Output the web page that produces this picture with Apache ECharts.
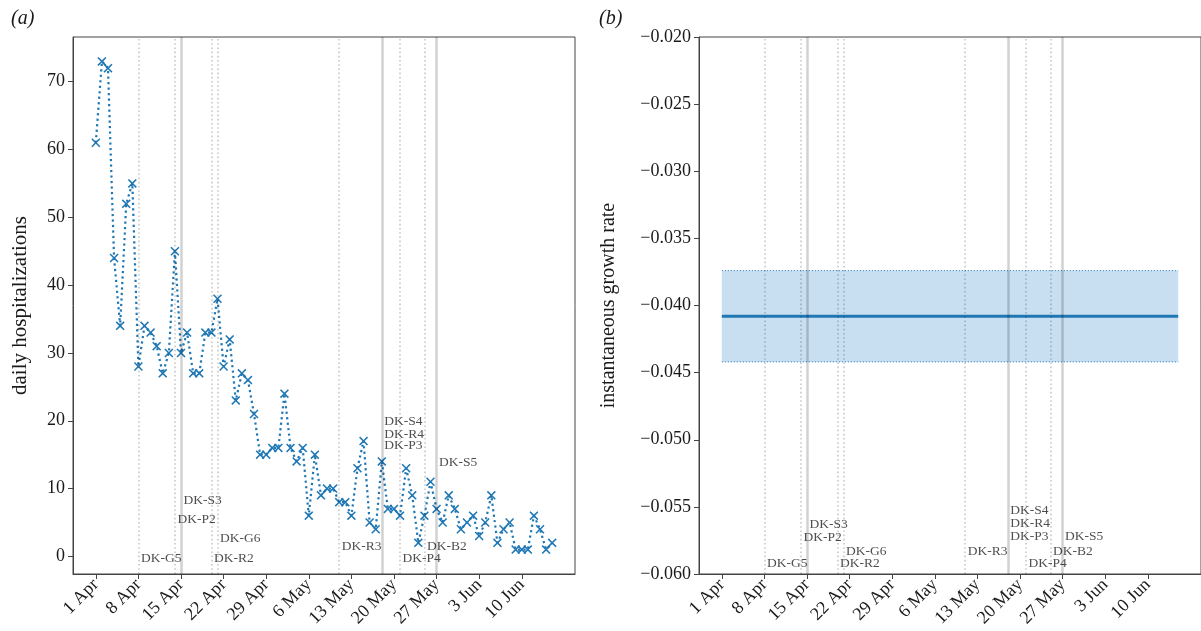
<!DOCTYPE html>
<html>
<head>
<meta charset="utf-8">
<script src="https://cdn.jsdelivr.net/npm/echarts@6/dist/echarts.min.js"></script>
<style>
  html, body { margin: 0; padding: 0; background: #fff; }
  #main { width: 1201px; height: 631px; }
</style>
</head>
<body>
<div id="main"></div>
<script>
// days counted from 1 Apr
var tickDays   = [0, 7, 14, 21, 28, 35, 42, 49, 56, 63, 70];
var tickLabels = ['1 Apr', '8 Apr', '15 Apr', '22 Apr', '29 Apr', '6 May', '13 May', '20 May', '27 May', '3 Jun', '10 Jun'];

// daily hospitalizations, one per day from 1 Apr (day 0) to 15 Jun (day 75)
var hospDays = [];
for (var d = 0; d <= 75; d++) hospDays.push(d);
var hospitalizations = [61, 73, 72, 44, 34, 52, 55, 28, 34, 33, 31, 27, 30, 45, 30, 33,
  27, 27, 33, 33, 38, 28, 32, 23, 27, 26, 21, 15, 15, 16, 16, 24, 16, 14, 16, 6,
  15, 9, 10, 10, 8, 8, 6, 13, 17, 5, 4, 14, 7, 7, 6, 13, 9, 2, 6, 11, 7, 5, 9, 7,
  4, 5, 6, 3, 5, 9, 2, 4, 5, 1, 1, 1, 6, 4, 1, 2];

// growth rate estimate (constant over the period) and its interval
var growthDays  = [0, 75];
var growthRate  = [-0.0408, -0.0408];
var growthLower = [-0.0442, -0.0442];
var growthUpper = [-0.0374, -0.0374];

// event lines
var eventDays  = [7, 13, 14, 19, 20, 40, 47, 50, 54, 56];
var eventKinds = ['dotted', 'dotted', 'solid', 'dotted', 'dotted', 'dotted', 'solid', 'dotted', 'dotted', 'solid'];

// event names and where the text sits on each panel
var annoNames  = ['DK-G5', 'DK-P2', 'DK-S3', 'DK-R2', 'DK-G6', 'DK-R3', 'DK-S4', 'DK-R4', 'DK-P3', 'DK-P4', 'DK-B2', 'DK-S5'];
var annoDays   = [7, 13, 14, 19, 20, 40, 47, 47, 47, 50, 54, 56];
var annoLevelA = [-0.34, 5.4, 8.2, -0.34, 2.6, 1.47, 19.96, 18.0, 16.3, -0.34, 1.47, 13.9];
var annoLevelB = [-0.0592, -0.0573, -0.0563, -0.0592, -0.0583, -0.0583, -0.0553, -0.0562, -0.0572, -0.0592, -0.0583, -0.0572];

var FONT = '"Liberation Serif", "DejaVu Serif", serif';
var BLUE = '#1f77b4';
var INK  = '#1a1a1a';

function zip(a, b) {
  var out = [];
  for (var i = 0; i < a.length; i++) out.push([a[i], b[i]]);
  return out;
}

function annoData(levels) {
  var out = [];
  for (var i = 0; i < annoNames.length; i++) out.push({ value: [annoDays[i], levels[i]], name: annoNames[i] });
  return out;
}

function eventLines() {
  var out = [];
  for (var i = 0; i < eventDays.length; i++) {
    var solid = eventKinds[i] == 'solid';
    out.push({
      xAxis: eventDays[i],
      lineStyle: solid
        ? { type: 'solid', width: 2.5, color: 'rgba(0,0,0,0.18)' }
        : { type: [1.6, 2.6], width: 1.6, color: 'rgba(0,0,0,0.22)' }
    });
  }
  return out;
}

function xAxisFor(idx) {
  return {
    type: 'value', gridIndex: idx, min: -3.75, max: 78.75,
    splitLine: { show: false },
    axisLine: { show: true, onZero: false, lineStyle: { color: '#444', width: 1 } },
    axisTick: { show: true, length: 5, lineStyle: { color: '#444' }, customValues: tickDays },
    axisLabel: {
      customValues: tickDays, rotate: 45, margin: 8,
      fontFamily: FONT, fontSize: 18, color: INK,
      formatter: function (v) { return tickLabels[tickDays.indexOf(v)]; }
    }
  };
}

var chart = echarts.init(document.getElementById('main'));

var option = {
  animation: false,
  backgroundColor: '#fff',
  title: [
    { text: '(a)', left: 6, top: 4, textStyle: { fontFamily: FONT, fontStyle: 'italic', fontWeight: 'normal', fontSize: 20, color: INK } },
    { text: '(b)', left: 594, top: 4, textStyle: { fontFamily: FONT, fontStyle: 'italic', fontWeight: 'normal', fontSize: 20, color: INK } }
  ],
  grid: [
    { left: 73, top: 37, width: 502, height: 537, show: true, borderColor: '#444', borderWidth: 1 },
    { left: 699, top: 37, width: 503, height: 537, show: true, borderColor: '#444', borderWidth: 1 }
  ],
  xAxis: [xAxisFor(0), xAxisFor(1)],
  yAxis: [
    {
      type: 'value', gridIndex: 0, min: -2.6, max: 76.6,
      name: 'daily hospitalizations', nameLocation: 'middle', nameGap: 42,
      nameTextStyle: { fontFamily: FONT, fontSize: 21, color: INK },
      splitLine: { show: false },
      axisLine: { show: true, onZero: false, lineStyle: { color: '#444' } },
      axisTick: { show: true, length: 5, lineStyle: { color: '#444' }, customValues: [0, 10, 20, 30, 40, 50, 60, 70] },
      axisLabel: { customValues: [0, 10, 20, 30, 40, 50, 60, 70], margin: 8, fontFamily: FONT, fontSize: 18, color: INK }
    },
    {
      type: 'value', gridIndex: 1, min: -0.06, max: -0.02, interval: 0.005,
      name: 'instantaneous growth rate', nameLocation: 'middle', nameGap: 80,
      nameTextStyle: { fontFamily: FONT, fontSize: 20, color: INK },
      splitLine: { show: false },
      axisLine: { show: true, onZero: false, lineStyle: { color: '#444' } },
      axisTick: { show: true, length: 5, lineStyle: { color: '#444' } },
      axisLabel: {
        margin: 8, fontFamily: FONT, fontSize: 18, color: INK,
        formatter: function (v) { return (v < 0 ? '\u2212' : '') + Math.abs(v).toFixed(3); }
      }
    }
  ],
  series: [
    // panel a: event lines
    {
      type: 'line', xAxisIndex: 0, yAxisIndex: 0, data: [], z: 1,
      markLine: { silent: true, symbol: 'none', label: { show: false }, data: eventLines() }
    },
    // panel a: hospitalizations
    {
      type: 'line', xAxisIndex: 0, yAxisIndex: 0, z: 3,
      data: zip(hospDays, hospitalizations),
      symbol: 'path://M0,1.2 L1.2,0 L5,3.8 L8.8,0 L10,1.2 L6.2,5 L10,8.8 L8.8,10 L5,6.2 L1.2,10 L0,8.8 L3.8,5 Z',
      symbolSize: 9,
      itemStyle: { color: BLUE },
      lineStyle: { color: BLUE, width: 2.2, type: [2.2, 3.3] }
    },
    // panel a: event names
    {
      type: 'scatter', xAxisIndex: 0, yAxisIndex: 0, z: 4,
      data: annoData(annoLevelA), symbolSize: 1, itemStyle: { color: 'rgba(0,0,0,0)' },
      label: { show: true, position: 'right', distance: 2, formatter: '{b}', fontFamily: FONT, fontSize: 13.5, color: '#222' }
    },
    // panel b: interval edges and band
    {
      type: 'line', xAxisIndex: 1, yAxisIndex: 1, z: 1,
      data: zip(growthDays, growthLower), symbol: 'none',
      lineStyle: { color: BLUE, width: 1, type: [1, 2] },
      markArea: {
        silent: true,
        itemStyle: { color: '#c8dff2' },
        data: [[{ coord: [growthDays[0], growthUpper[0]] }, { coord: [growthDays[1], growthLower[1]] }]]
      }
    },
    {
      type: 'line', xAxisIndex: 1, yAxisIndex: 1, z: 1,
      data: zip(growthDays, growthUpper), symbol: 'none',
      lineStyle: { color: BLUE, width: 1, type: [1, 2] }
    },
    // panel b: estimate
    {
      type: 'line', xAxisIndex: 1, yAxisIndex: 1, z: 2,
      data: zip(growthDays, growthRate), symbol: 'none',
      lineStyle: { color: BLUE, width: 2.8 }
    },
    // panel b: event lines over the band
    {
      type: 'line', xAxisIndex: 1, yAxisIndex: 1, data: [], z: 3,
      markLine: { silent: true, symbol: 'none', label: { show: false }, data: eventLines() }
    },
    {
      type: 'scatter', xAxisIndex: 1, yAxisIndex: 1, z: 4,
      data: annoData(annoLevelB), symbolSize: 1, itemStyle: { color: 'rgba(0,0,0,0)' },
      label: { show: true, position: 'right', distance: 2, formatter: '{b}', fontFamily: FONT, fontSize: 13.5, color: '#222' }
    }
  ]
};

chart.setOption(option);
</script>
</body>
</html>
